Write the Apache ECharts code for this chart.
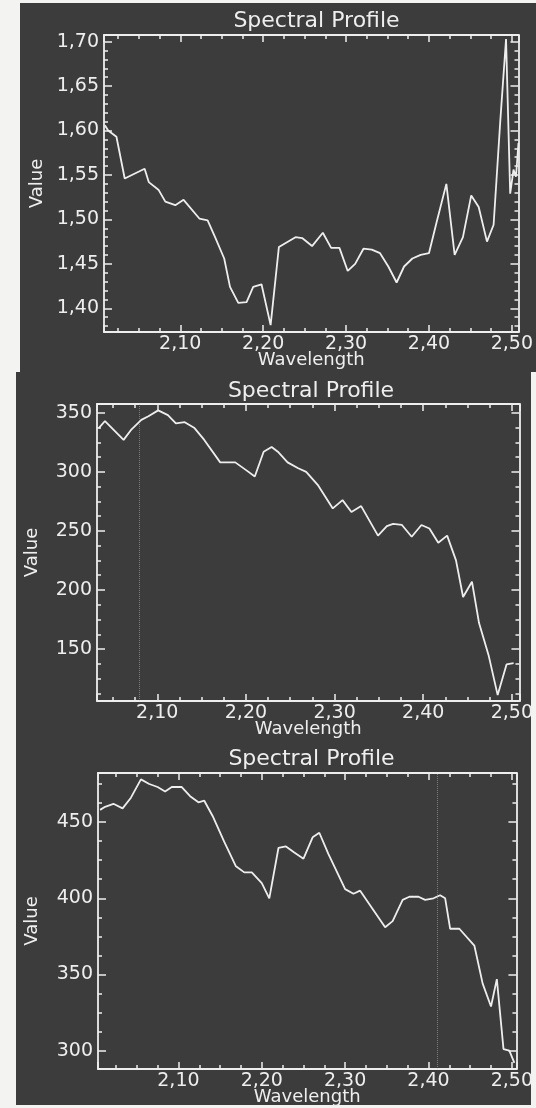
<!DOCTYPE html>
<html><head><meta charset="utf-8">
<script src="https://cdn.jsdelivr.net/npm/echarts@6/dist/echarts.min.js"></script>
<style>
html,body{margin:0;padding:0;background:#f3f3f1;}
#wrap{position:relative;width:536px;height:1108px;overflow:hidden;}
.bg{position:absolute;background:#3b3c3b;}
#chart{position:absolute;left:0;top:0;width:536px;height:1108px;}
</style></head>
<body><div id="wrap">
<div class="bg" style="left:20px;top:3px;width:516px;height:369px"></div>
<div class="bg" style="left:16px;top:372px;width:515px;height:733px"></div>
<div id="chart"></div></div>
<script>
// ---- data ----
const titleText = 'Spectral Profile';
const xName = 'Wavelength';
const yName = 'Value';

const p1Wavelength = [2.009,2.013,2.023,2.033,2.057,2.062,2.074,2.082,2.094,2.104,2.123,2.133,2.142,2.153,2.160,2.170,2.180,2.188,2.198,2.209,2.219,2.239,2.247,2.259,2.272,2.282,2.292,2.302,2.311,2.321,2.331,2.341,2.351,2.361,2.370,2.380,2.390,2.400,2.409,2.421,2.431,2.441,2.451,2.460,2.470,2.478,2.486,2.493,2.498,2.502,2.505,2.508];
const p1Value = [1.606,1.600,1.593,1.546,1.557,1.542,1.533,1.520,1.516,1.522,1.501,1.499,1.480,1.456,1.424,1.406,1.407,1.424,1.427,1.381,1.469,1.480,1.479,1.470,1.485,1.468,1.468,1.442,1.450,1.467,1.466,1.462,1.447,1.429,1.447,1.456,1.460,1.462,1.496,1.540,1.460,1.480,1.527,1.514,1.475,1.494,1.610,1.703,1.529,1.556,1.548,1.586];

const p2Wavelength = [2.034,2.041,2.062,2.071,2.082,2.090,2.101,2.112,2.121,2.131,2.142,2.153,2.171,2.188,2.201,2.210,2.220,2.229,2.236,2.247,2.259,2.268,2.281,2.298,2.309,2.319,2.330,2.349,2.359,2.366,2.376,2.387,2.398,2.407,2.417,2.427,2.437,2.445,2.455,2.463,2.474,2.484,2.494,2.502];
const p2Value = [337,343,327,336,344,347,352,348,341,342,337,327,308,308,301,296,317,321,317,308,303,300,289,269,276,266,271,246,254,256,255,245,255,252,240,246,225,194,207,172,144,111,137,138];

const p3Wavelength = [2.006,2.012,2.022,2.033,2.043,2.055,2.065,2.075,2.084,2.092,2.104,2.114,2.124,2.131,2.141,2.155,2.169,2.179,2.188,2.200,2.209,2.220,2.229,2.239,2.250,2.261,2.269,2.280,2.300,2.310,2.318,2.333,2.348,2.357,2.369,2.377,2.388,2.396,2.406,2.414,2.420,2.426,2.437,2.455,2.465,2.475,2.482,2.490,2.497,2.503];
const p3Value = [458,460,462,459,466,478,475,473,470,473,473,467,463,464,454,437,421,417,417,410,400,433,434,430,426,440,443,429,406,403,405,393,381,385,399,401,401,399,400,402,400,380,380,369,344,329,347,301,300,292];

// axis ranges (frame extents) and faint cursor lines
const p1XRange = [2.008, 2.508], p1YRange = [1.3733, 1.7075];
const p2XRange = [2.032, 2.5086], p2YRange = [106, 357.4];
const p3XRange = [2.0035, 2.5055], p3YRange = [288, 482.2];
const p2Cursor = 2.080;
const p3Cursor = 2.406;

// ---- styling / layout ----
const FG = '#eeeeee';
const FONT = 'DejaVu Sans';
const grids = [
  {left:104, top:35, width:425, height:297},
  {left:97, top:404, width:428, height:297},
  {left:98, top:773, width:427, height:296}
];
const panels = [
  {x:p1Wavelength, y:p1Value, xr:p1XRange, yr:p1YRange, ySplit:7, yMinor:5, dec:2, titleTop:10, yGap:58, cursor:null},
  {x:p2Wavelength, y:p2Value, xr:p2XRange, yr:p2YRange, ySplit:5, yMinor:4, dec:0, titleTop:380, yGap:56, cursor:p2Cursor},
  {x:p3Wavelength, y:p3Value, xr:p3XRange, yr:p3YRange, ySplit:4, yMinor:4, dec:0, titleTop:748, yGap:57, cursor:p3Cursor}
];
const fmt2 = v => v.toFixed(2).replace('.', ',');

const option = {
  backgroundColor: 'transparent',
  animation: false,
  title: [], grid: grids, xAxis: [], yAxis: [], series: []
};

panels.forEach((p, i) => {
  const g = grids[i];
  option.title.push({
    text: titleText, left: g.left + g.width/2, top: p.titleTop, textAlign: 'center', padding: 0,
    textStyle: {color: FG, fontFamily: FONT, fontSize: 22, fontWeight: 'normal'}
  });
  const lineStyle = {color: FG, width: 1.8};
  const tickStyle = {color: FG, width: 1.5};
  const xBase = {
    type: 'value', gridIndex: i, min: p.xr[0], max: p.xr[1], splitNumber: 5,
    axisLine: {show: true, onZero: false, lineStyle},
    axisTick: {show: true, inside: true, length: 7, lineStyle: tickStyle},
    minorTick: {show: true, splitNumber: 4, length: 4, lineStyle: tickStyle},
    splitLine: {show: false}, minorSplitLine: {show: false}
  };
  option.xAxis.push(Object.assign({}, xBase, {
    position: 'bottom', name: xName, nameLocation: 'middle', nameGap: 19, nameMoveOverlap: false,
    nameTextStyle: {color: FG, fontFamily: FONT, fontSize: 18},
    axisLabel: {show: true, margin: 3, color: FG, fontFamily: FONT, fontSize: 19,
      showMinLabel: false, showMaxLabel: false, formatter: fmt2}
  }));
  option.xAxis.push(Object.assign({}, xBase, {position: 'top', axisLabel: {show: false}}));
  const yBase = {
    type: 'value', gridIndex: i, min: p.yr[0], max: p.yr[1], splitNumber: p.ySplit,
    axisLine: {show: true, onZero: false, lineStyle},
    axisTick: {show: true, inside: true, length: 8, lineStyle: tickStyle},
    minorTick: {show: true, splitNumber: p.yMinor, length: 4, lineStyle: tickStyle},
    splitLine: {show: false}, minorSplitLine: {show: false}
  };
  option.yAxis.push(Object.assign({}, yBase, {
    position: 'left', name: yName, nameLocation: 'middle', nameGap: p.yGap, nameMoveOverlap: false,
    nameTextStyle: {color: FG, fontFamily: FONT, fontSize: 18},
    axisLabel: {show: true, margin: 5, color: FG, fontFamily: FONT, fontSize: 19,
      showMinLabel: false, showMaxLabel: false,
      formatter: p.dec ? fmt2 : (v => String(Math.round(v)))}
  }));
  option.yAxis.push(Object.assign({}, yBase, {position: 'right', axisLabel: {show: false}}));
  const s = {
    type: 'line', xAxisIndex: 2*i, yAxisIndex: 2*i,
    data: p.x.map((w, k) => [w, p.y[k]]),
    showSymbol: false, symbol: 'none', lineStyle: {color: FG, width: 1.8}, z: 3
  };
  if (p.cursor != null) {
    s.markLine = {silent: true, symbol: 'none', label: {show: false},
      lineStyle: {type: 'dotted', color: 'rgba(200,200,200,0.45)', width: 1},
      data: [{xAxis: p.cursor}]};
  }
  option.series.push(s);
});

const chart = echarts.init(document.getElementById('chart'), null, {renderer: 'canvas'});
chart.setOption(option);
</script>
</body></html>
